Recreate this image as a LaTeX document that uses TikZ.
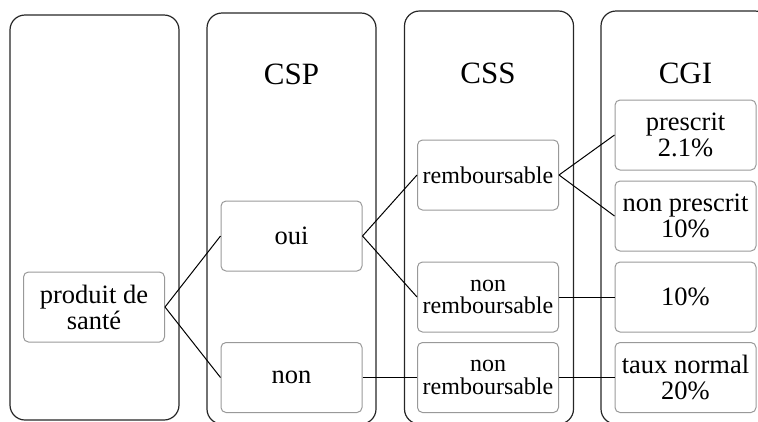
\documentclass[tikz,border=0pt]{standalone}
\usepackage{fontspec}
\setmainfont{Liberation Serif}
\begin{document}
\begin{tikzpicture}[
    x=1pt, y=-1pt,
    every node/.style={align=center, inner sep=0pt},
    column/.style={draw=black!85, line width=1.2pt, rounded corners=15pt, minimum width=169pt},
    title/.style={font=\fontsize{31}{31}\selectfont, anchor=base},
    choice/.style={draw=black!40, line width=1pt, rounded corners=5pt, minimum width=141pt, minimum height=70pt, font=\fontsize{26.5}{26}\selectfont},
    small/.style={font=\fontsize{24}{22.5}\selectfont},
    link/.style={draw=black, line width=1pt}
]
    \useasboundingbox (0,0) rectangle (758,421);

    % Draw columns
    \node[column, minimum height=405pt] (col1) at (94.5,217.5) {};
    \node[column, minimum height=411pt] (col2) at (291.5,218.5) {};
    \node[column, minimum height=413pt] (col3) at (489,217.5) {};
    \node[column, minimum height=413pt] (col4) at (685.5,217.5) {};

    % Draw titles
    \node[title] (csp) at (291.5,84) {CSP};
    \node[title] (css) at (488,83) {CSS};
    \node[title] (cgi) at (685.5,83) {CGI};

    % Draw nodes
    \node[choice] (produit) at (94,307) {produit de\\santé};
    \node[choice] (oui) at (291.5,236) {oui};
    \node[choice] (non) at (291.5,377.5) {non};
    \node[choice, small] (rembours) at (488,175) {remboursable};
    \node[choice, small] (nonrembA) at (488,297) {non\\remboursable};
    \node[choice, small] (nonrembB) at (488,377.5) {non\\remboursable};
    \node[choice] (prescrit) at (685.5,135) {prescrit\\2.1\%};
    \node[choice] (nonprescrit) at (685.5,216) {non prescrit\\10\%};
    \node[choice] (dix) at (685.5,297) {10\%};
    \node[choice] (normal) at (685.5,377.5) {taux normal\\20\%};

    % Draw connections
    \draw[link] (produit.east) -- (oui.west);
    \draw[link] (produit.east) -- (non.west);
    \draw[link] (oui.east) -- (rembours.west);
    \draw[link] (oui.east) -- (nonrembA.west);
    \draw[link] (non.east) -- (nonrembB.west);
    \draw[link] (rembours.east) -- (prescrit.west);
    \draw[link] (rembours.east) -- (nonprescrit.west);
    \draw[link] (nonrembA.east) -- (dix.west);
    \draw[link] (nonrembB.east) -- (normal.west);

\end{tikzpicture}
\end{document}
